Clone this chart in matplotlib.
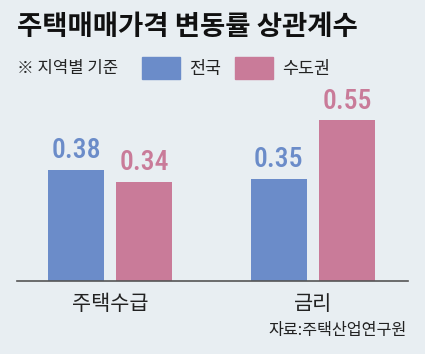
import matplotlib
matplotlib.use('Agg')
import matplotlib.pyplot as plt
from matplotlib.patches import Rectangle
import numpy as np

plt.rcParams['font.family'] = ['Noto Sans CJK KR', 'DejaVu Sans']

categories = ['주택수급', '금리']
series_names = ['전국', '수도권']
nationwide = [0.38, 0.35]
capital = [0.34, 0.55]

title = '주택매매가격 변동률 상관계수'
subtitle = '※ 지역별 기준'
source = '자료:주택산업연구원'

bg = '#e8eef2'
blue = '#6b8cc9'
pink = '#c97b99'

fig = plt.figure(figsize=(4.25, 3.54), dpi=100, facecolor=bg)
ax = fig.add_axes([0.04, 1 - 281 / 354, 0.92, 185 / 354])
ax.set_facecolor(bg)

x = np.arange(len(categories))
w = 0.277
off = 0.168
b1 = ax.bar(x - off, nationwide, w, color=blue)
b2 = ax.bar(x + off, capital, w, color=pink)

num_font = ['Roboto Condensed', 'DejaVu Sans']
for bars, vals, c in [(b1, nationwide, blue), (b2, capital, pink)]:
    for b, v in zip(bars, vals):
        ax.annotate(f'{v:.2f}', (b.get_x() + b.get_width() / 2, v),
                    xytext=(0, 4), textcoords='offset points',
                    ha='center', va='bottom', color=c, fontsize=20,
                    fontweight='medium', family=num_font)

ax.set_xlim(-0.46, 1.47)
ax.set_ylim(0, 185 / 292)
ax.set_yticks([])
ax.set_xticks(x)
ax.set_xticklabels(categories, fontsize=15, color='#222222')
ax.tick_params(axis='x', length=0, pad=8.5)
for s in ['top', 'right', 'left']:
    ax.spines[s].set_visible(False)
ax.spines['bottom'].set_color('#555555')
ax.spines['bottom'].set_linewidth(1.2)

fig.text(17 / 425, 1 - 27 / 354, title, fontsize=19.8, fontweight='bold',
         va='center', ha='left', color='#111111')
fig.text(17 / 425, 1 - 69 / 354, subtitle, fontsize=12, va='center',
         ha='left', color='#222222')

# legend
for i, (name, c) in enumerate(zip(series_names, [blue, pink])):
    x0 = [142, 235][i]
    fig.patches.append(Rectangle((x0 / 425, 1 - 79 / 354), 38 / 425, 22 / 354,
                                 transform=fig.transFigure, color=c))
    fig.text((x0 + 47) / 425, 1 - 69 / 354, name, fontsize=12.5,
             va='center', ha='left', color='#222222')

fig.text(407 / 425, 1 - 331 / 354, source, fontsize=11.7, va='center',
         ha='right', color='#222222')

fig.savefig('out.png', dpi=100, facecolor=bg)
